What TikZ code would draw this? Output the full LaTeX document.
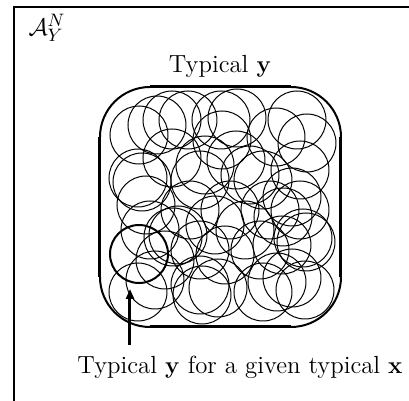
\documentclass[tikz,border=0pt]{standalone}
\usetikzlibrary{arrows.meta}
\begin{document}
\begin{tikzpicture}[x=0.5pt,y=-0.5pt,
  frameline/.style={line width=0.85pt},
  ycircle/.style={line width=0.5pt},
  boxedge/.style={line width=1pt, rounded corners=25pt},
  boxside/.style={line width=1.5pt},
  givencircle/.style={circle, draw, line width=1pt, minimum size=29pt, inner sep=0pt},
  pointer/.style={line width=1.5pt, -{Triangle[length=5pt,width=4pt]}},
  lbl/.style={font=\fontsize{12.4}{15}\selectfont, inner sep=0pt}]
\useasboundingbox (0,0) rectangle (409,401);
% frame
\draw[frameline] (14,401) -- (14,7) -- (409,7);
\node[lbl] (space) at (47,28) {$\mathcal{A}_Y^N$};
% rounded box
\draw[boxedge] (100,87) rectangle (341,327);
\draw[boxside] (150,87) -- (291,87);
\draw[boxside] (150,327) -- (291,327);
\draw[boxside] (100,137) -- (100,277);
\draw[boxside] (341,137) -- (341,277);
% circles
\foreach \cx/\cy in {
  139/135, 157/125, 172/120, 188/120, 221/120, 222/140, 237/118, 276/137, 297/120, 307/143,
  138/178, 142/182, 172/158, 200/180, 205/165, 236/160, 263/180, 292/197, 300/170, 250/175,
  146/205, 150/230, 190/210, 230/210, 270/210, 283/217, 178/235, 215/225, 300/210,
  173/237, 245/230, 282/245, 303/238, 306/242, 260/250, 200/250, 225/255, 165/260,
  138/292, 200/285, 202/295, 218/288, 263/292, 277/282, 292/278, 155/280, 305/290}
  \draw[ycircle] (\cx,\cy) circle[radius=14.5pt];
\node[givencircle] (given) at (139,254) {};
% labels
\node[lbl] (typy) at (220,66) {Typical $\mathbf{y}$};
\node[lbl] (typyx) at (240,367) {Typical $\mathbf{y}$ for a given typical $\mathbf{x}$};
\coordinate (tail) at (130,345);
\coordinate (tip) at (130,289);
\draw[pointer] (tail) -- (tip);
\end{tikzpicture}
\end{document}
